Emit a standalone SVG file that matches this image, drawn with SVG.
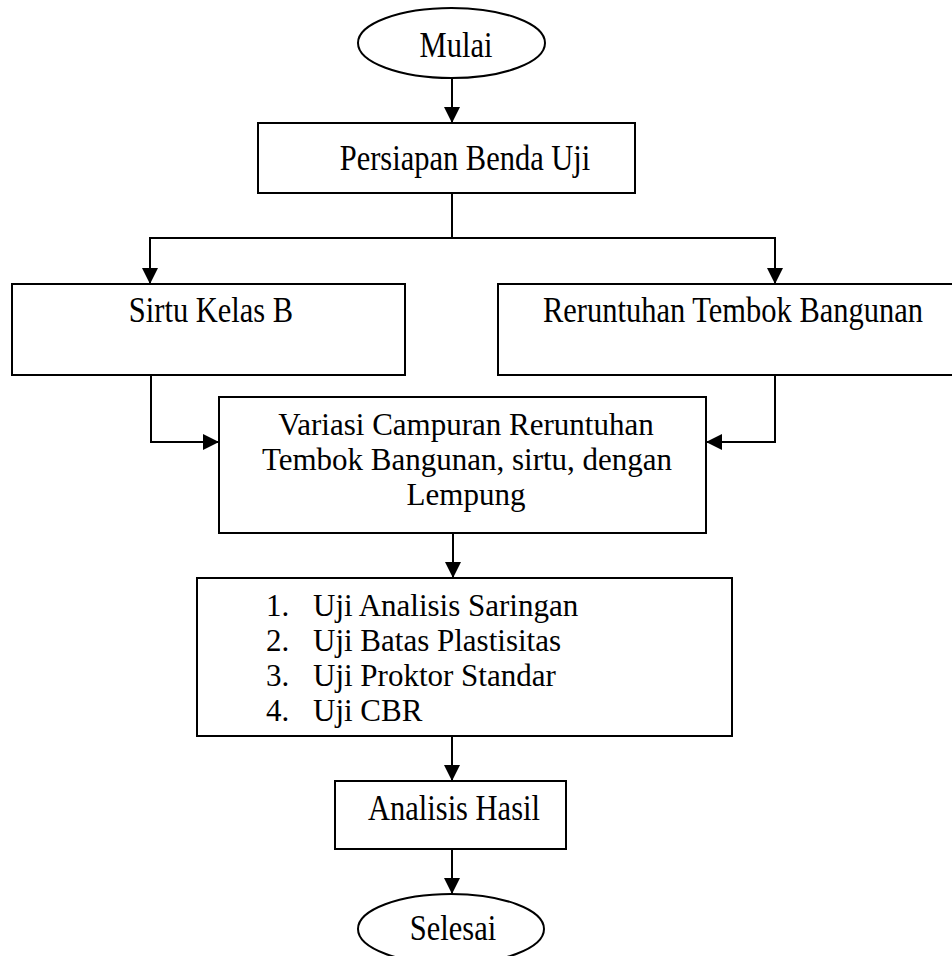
<svg xmlns="http://www.w3.org/2000/svg" width="952" height="956" viewBox="0 0 952 956">
<style>
.box{fill:#fff;stroke:#000;stroke-width:2}
.ln{fill:none;stroke:#000;stroke-width:2}
.t{font-family:"Liberation Serif","Times New Roman",serif;font-size:30.5px;fill:#000}
.s{font-size:31px}
.m{text-anchor:middle}
</style>
<defs>
<marker id="ah" markerUnits="userSpaceOnUse" markerWidth="17" markerHeight="17" viewBox="0 0 17 17" refX="16" refY="8" orient="auto">
<path d="M0,0 L16,8 L0,16 z" fill="#000"/>
</marker>
</defs>
<rect width="952" height="956" fill="#fff"/>
<g id="connectors">
<line class="ln" x1="452" y1="78" x2="452" y2="123" marker-end="url(#ah)"/>
<line class="ln" x1="452" y1="193" x2="452" y2="238"/>
<polyline class="ln" points="452,238 150,238 150,284" marker-end="url(#ah)"/>
<polyline class="ln" points="452,238 775,238 775,284" marker-end="url(#ah)"/>
<polyline class="ln" points="151,375 151,442 219,442" marker-end="url(#ah)"/>
<polyline class="ln" points="775,375 775,442 706,442" marker-end="url(#ah)"/>
<line class="ln" x1="453" y1="533" x2="453" y2="578" marker-end="url(#ah)"/>
<line class="ln" x1="452" y1="736" x2="452" y2="781" marker-end="url(#ah)"/>
<line class="ln" x1="452" y1="849" x2="452" y2="894" marker-end="url(#ah)"/>
</g>
<g id="mulai">
<ellipse class="box" cx="451.5" cy="43" rx="93.5" ry="35"/>
<text class="t m" transform="translate(456,57) scale(1,1.2)">Mulai</text>
</g>
<g id="persiapan">
<rect class="box" x="258" y="123" width="377" height="70"/>
<text class="t m" transform="translate(465,170) scale(1,1.2)">Persiapan Benda Uji</text>
</g>
<g id="sirtu">
<rect class="box" x="12" y="284" width="393" height="91"/>
<text class="t m" transform="translate(211,322) scale(1,1.2)">Sirtu Kelas B</text>
</g>
<g id="reruntuhan">
<rect class="box" x="498" y="284" width="460" height="91"/>
<text class="t m" transform="translate(733,322) scale(1,1.2)">Reruntuhan Tembok Bangunan</text>
</g>
<g id="variasi">
<rect class="box" x="219" y="397" width="487" height="136"/>
<text class="t s m" x="466" y="435">Variasi Campuran Reruntuhan</text>
<text class="t s m" x="467" y="470">Tembok Bangunan, sirtu, dengan</text>
<text class="t s m" x="466" y="505">Lempung</text>
</g>
<g id="pengujian">
<rect class="box" x="197" y="578" width="535" height="158"/>
<text class="t s" x="266" y="616">1.</text>
<text class="t s" x="313" y="616">Uji Analisis Saringan</text>
<text class="t s" x="266" y="651">2.</text>
<text class="t s" x="313" y="651">Uji Batas Plastisitas</text>
<text class="t s" x="266" y="686">3.</text>
<text class="t s" x="313" y="686">Uji Proktor Standar</text>
<text class="t s" x="266" y="721">4.</text>
<text class="t s" x="313" y="721">Uji CBR</text>
</g>
<g id="analisis">
<rect class="box" x="335" y="781" width="231" height="68"/>
<text class="t m" transform="translate(454,820) scale(1,1.2)">Analisis Hasil</text>
</g>
<g id="selesai">
<ellipse class="box" cx="451" cy="929" rx="93" ry="35"/>
<text class="t m" transform="translate(453,940) scale(1,1.2)">Selesai</text>
</g>
</svg>
